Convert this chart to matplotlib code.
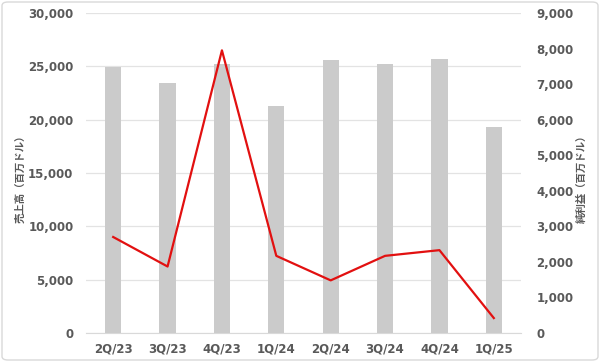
import matplotlib
matplotlib.use("Agg")
import matplotlib.pyplot as plt
from matplotlib.patches import FancyBboxPatch

plt.rcParams['font.family'] = ['DejaVu Sans', 'Noto Sans CJK JP']

quarters = ["2Q/23", "3Q/23", "4Q/23", "1Q/24", "2Q/24", "3Q/24", "4Q/24", "1Q/25"]
revenue = [24900, 23400, 25200, 21300, 25600, 25200, 25700, 19300]
net_income = [2700, 1870, 7950, 2170, 1480, 2170, 2330, 420]
left_ticks = [0, 5000, 10000, 15000, 20000, 25000, 30000]
right_ticks = [0, 1000, 2000, 3000, 4000, 5000, 6000, 7000, 8000, 9000]

fig = plt.figure(figsize=(6.0, 3.62), dpi=100)
ax = fig.add_axes([86/600, 1-333/362, 435/600, 320/362])
ax2 = ax.twinx()

x = list(range(len(quarters)))
ax.bar(x, revenue, width=0.3, color="#cbcbcb", zorder=2)
ax.set_xlim(-0.5, len(quarters) - 0.5)
ax.set_ylim(0, 30000)
ax.set_yticks(left_ticks)
ax.set_yticklabels([f"{v:,}" for v in left_ticks])
ax.grid(axis="y", color="#e3e3e3", linewidth=0.9, zorder=0)
ax.set_axisbelow(True)

ax2.plot(x, net_income, color="#e21010", linewidth=1.6, zorder=3)
ax2.set_ylim(0, 9000)
ax2.set_yticks(right_ticks)
ax2.set_yticklabels([f"{v:,}" for v in right_ticks])

for a in (ax, ax2):
    for s in a.spines.values():
        s.set_visible(False)
    a.tick_params(length=0, colors="#595959", labelsize=8.5)
    for lab in a.get_yticklabels() + a.get_xticklabels():
        lab.set_fontweight("bold")
ax.spines['bottom'].set_visible(True)
ax.spines['bottom'].set_color("#d9d9d9")
ax.set_xticks(x)
ax.set_xticklabels(quarters)
ax.tick_params(axis="x", pad=7)
ax.tick_params(axis="y", pad=9)
ax2.tick_params(axis="y", pad=11)

jp = ['Noto Sans CJK JP', 'DejaVu Sans']
fig.text(20/600, 1-176/362, "売上高（百万ドル）", rotation=90, ha="center", va="center",
         fontsize=7.5, color="#595959", family=jp, fontweight="bold")
fig.text(582/600, 1-176/362, "純利益（百万ドル）", rotation=90, ha="center", va="center",
         fontsize=7.5, color="#595959", family=jp, fontweight="bold")

border = FancyBboxPatch((2/600, 2/362), 596/600, 358/362, boxstyle="round,pad=0,rounding_size=0.01",
                        transform=fig.transFigure, fill=False, edgecolor="#d9d9d9", linewidth=1.0)
fig.patches.append(border)

fig.savefig("out.png", dpi=100)
